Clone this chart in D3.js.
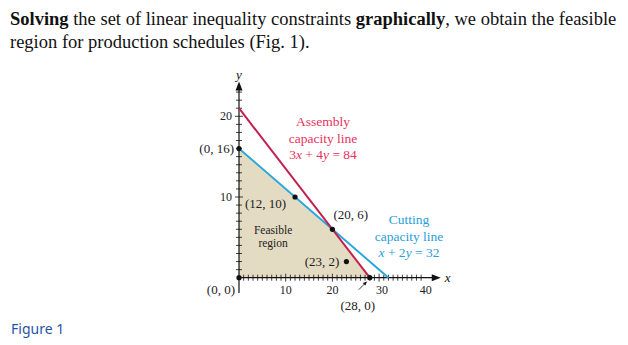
<!DOCTYPE html>
<html><head><meta charset="utf-8">
<script src="https://cdn.jsdelivr.net/npm/d3@7"></script>
<style>
html,body{margin:0;padding:0;background:#fff;}
svg{display:block;}
</style></head>
<body>
<svg id="c" width="628" height="345"></svg>
<script>
// ---- data ----
const assemblyLine = [[0, 21], [28, 0]];      // 3x + 4y = 84
const cuttingLine  = [[0, 16], [32, 0]];      // x + 2y = 32
const feasible     = [[0, 0], [0, 16], [20, 6], [28, 0]];
const cornerPoints = [
  {x: 0,  y: 0,  label: "(0, 0)"},
  {x: 0,  y: 16, label: "(0, 16)"},
  {x: 12, y: 10, label: "(12, 10)"},
  {x: 20, y: 6,  label: "(20, 6)"},
  {x: 23, y: 2,  label: "(23, 2)"},
  {x: 28, y: 0,  label: "(28, 0)"}
];
const xTickLabels = [10, 20, 30, 40];
const yTickLabels = [10, 20];
const xMinorTicks = d3.range(1, 40);
const yMinorTicks = d3.range(1, 24);

// ---- layout ----
const svg = d3.select("#c");
const x = d3.scaleLinear().domain([0, 40]).range([239, 425.8]);
const y = d3.scaleLinear().domain([0, 20]).range([277.7, 116.3]);
const serif = "'Liberation Serif','Times New Roman',serif";

// title text
const t1 = svg.append("text").attr("x", 10).attr("y", 25)
  .attr("font-family", serif).attr("font-size", 18.5).attr("fill", "#111");
t1.append("tspan").attr("font-weight", "bold").text("Solving");
t1.append("tspan").text(" the set of linear inequality constraints ");
t1.append("tspan").attr("font-weight", "bold").text("graphically");
t1.append("tspan").text(", we obtain the feasible");
svg.append("text").attr("x", 10).attr("y", 48)
  .attr("font-family", serif).attr("font-size", 18.5).attr("fill", "#111")
  .text("region for production schedules (Fig. 1).");

svg.append("text").attr("x", 11).attr("y", 334)
  .attr("font-family", "'Noto Sans','Open Sans',sans-serif").attr("font-size", 14)
  .attr("fill", "#1f55a8").text("Figure 1");

// feasible region
const line = d3.line().x(d => x(d[0])).y(d => y(d[1]));
svg.append("path").datum(feasible).attr("d", line(feasible) + "Z")
  .attr("fill", "#e4dbc3");

// axes
const g = svg.append("g").attr("stroke", "#111");
g.append("line").attr("x1", x(0)).attr("x2", x(42.5)).attr("y1", y(0)).attr("y2", y(0)).attr("stroke-width", 1.2);
g.append("line").attr("x1", x(0)).attr("x2", x(0)).attr("y1", y(-1.9)).attr("y2", y(23.5)).attr("stroke-width", 1.2);
g.selectAll(".xt").data(xMinorTicks).join("line")
  .attr("x1", d => x(d)).attr("x2", d => x(d))
  .attr("y1", d => y(0) - (d % 10 === 0 ? 4 : 3)).attr("y2", d => y(0) + (d % 10 === 0 ? 4 : 3))
  .attr("stroke-width", 0.8);
g.selectAll(".yt").data(yMinorTicks).join("line")
  .attr("y1", d => y(d)).attr("y2", d => y(d))
  .attr("x1", d => x(0) - (d % 10 === 0 ? 4 : 3)).attr("x2", d => x(0) + (d % 10 === 0 ? 4 : 3))
  .attr("stroke-width", 0.8);
// arrowheads
const xe = x(43.2), ye = y(24.3);
svg.append("path").attr("d", `M${xe},${y(0)} L${xe - 9},${y(0) - 3.5} L${xe - 9},${y(0) + 3.5} Z`).attr("fill", "#111");
svg.append("path").attr("d", `M${x(0)},${ye} L${x(0) - 3.5},${ye + 9} L${x(0) + 3.5},${ye + 9} Z`).attr("fill", "#111");
svg.append("text").attr("x", xe + 4).attr("y", y(0) + 4).attr("font-family", serif)
  .attr("font-style", "italic").attr("font-size", 13).attr("fill", "#111").text("x");
svg.append("text").attr("x", x(0)).attr("y", ye - 3).attr("text-anchor", "middle").attr("font-family", serif)
  .attr("font-style", "italic").attr("font-size", 13).attr("fill", "#111").text("y");

// tick labels
svg.selectAll(".xl").data(xTickLabels).join("text")
  .attr("x", d => x(d) + (d === 30 ? 3 : 0)).attr("y", y(0) + 16)
  .attr("text-anchor", "middle").attr("font-family", serif).attr("font-size", 12).attr("fill", "#222")
  .text(d => d);
svg.selectAll(".yl").data(yTickLabels).join("text")
  .attr("x", x(0) - 7).attr("y", d => y(d) + 4)
  .attr("text-anchor", "end").attr("font-family", serif).attr("font-size", 12).attr("fill", "#222")
  .text(d => d);

// constraint lines
svg.append("path").attr("d", line(cuttingLine)).attr("stroke", "#2aa8dc").attr("stroke-width", 2).attr("fill", "none");
svg.append("path").attr("d", line(assemblyLine)).attr("stroke", "#c2204f").attr("stroke-width", 2).attr("fill", "none");

// points
svg.selectAll(".pt").data(cornerPoints).join("circle")
  .attr("cx", d => x(d.x)).attr("cy", d => y(d.y)).attr("r", 2.6).attr("fill", "#111");

// point labels (offsets in px)
const labelPos = {
  "(0, 0)":   {dx: -4, dy: 16, a: "end"},
  "(0, 16)":  {dx: -5, dy: 4, a: "end"},
  "(12, 10)": {dx: -50, dy: 11, a: "start"},
  "(20, 6)":  {dx: 1, dy: -10, a: "start"},
  "(23, 2)":  {dx: -7, dy: 4, a: "end"},
  "(28, 0)":  {dx: -12, dy: 32, a: "middle"}
};
svg.selectAll(".pl").data(cornerPoints).join("text")
  .attr("x", d => x(d.x) + labelPos[d.label].dx)
  .attr("y", d => y(d.y) + labelPos[d.label].dy)
  .attr("text-anchor", d => labelPos[d.label].a)
  .attr("font-family", serif).attr("font-size", 13).attr("fill", "#222")
  .text(d => d.label);
// leader arrow to (28, 0)
const lx1 = x(28) - 11, ly1 = y(0) + 12, lx2 = x(28) - 3, ly2 = y(0) + 4;
svg.append("line").attr("x1", lx1).attr("y1", ly1).attr("x2", lx2).attr("y2", ly2).attr("stroke", "#111").attr("stroke-width", 0.8);
svg.append("path").attr("d", `M${lx2},${ly2} l-4,1.3 l2.6,2.6 Z`).attr("fill", "#111");

// region label
svg.append("text").attr("x", x(7.3)).attr("y", y(5.4)).attr("text-anchor", "middle")
  .attr("font-family", serif).attr("font-size", 11.5).attr("fill", "#222")
  .selectAll("tspan").data(["Feasible", "region"]).join("tspan")
  .attr("x", x(7.3)).attr("dy", (d, i) => i ? 12.5 : 0).text(d => d);

// line annotations
const italicize = s => s.split(/(\b[xy]\b)/).map(p => /^[xy]$/.test(p) ? `<tspan font-style="italic">${p}</tspan>` : p).join("");
svg.append("text").attr("text-anchor", "middle").attr("font-family", serif).attr("font-size", 13.5).attr("fill", "#e8325c")
  .selectAll("tspan").data(["Assembly", "capacity line", "3x + 4y = 84"]).join("tspan")
  .attr("x", 323).attr("y", (d, i) => 126 + i * 16.5)
  .html(d => d.replace(/(\d)([xy])/g, (m, a, b) => `${a}<tspan font-style="italic">${b}</tspan>`));
svg.append("text").attr("text-anchor", "middle").attr("font-family", serif).attr("font-size", 13.5).attr("fill", "#2a9ed8")
  .selectAll("tspan").data(["Cutting", "capacity line", "x + 2y = 32"]).join("tspan")
  .attr("x", 409).attr("y", (d, i) => 224 + i * 16.5)
  .html(d => italicize(d).replace(/(\d)y/g, `$1<tspan font-style="italic">y</tspan>`));
</script>
</body></html>
